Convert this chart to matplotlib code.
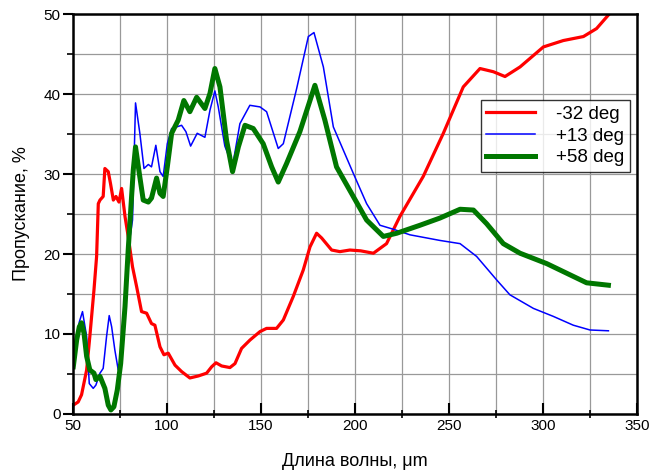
import matplotlib
matplotlib.use('Agg')
import matplotlib.pyplot as plt
from matplotlib.ticker import MultipleLocator

plt.rcParams['font.family'] = ['Liberation Sans', 'DejaVu Sans']

# -32 deg
red_x = [50.2, 52.8, 54.6, 57.3, 59.0, 61.2, 62.6, 63.5, 64.4, 66.1, 67.0, 68.8, 70.0, 71.5,
         72.9, 74.5, 75.9, 77.7, 79.4, 81.7, 83.9, 86.5, 89.2, 91.8, 93.6, 96.3, 98.4, 100.7,
         104.3, 107.8, 112.2, 116.7, 121.1, 123.8, 126.1, 129.1, 133.5, 136.2, 139.7, 144.2,
         149.5, 153.0, 158.3, 161.9, 167.2, 172.5, 176.1, 179.6, 182.3, 187.6, 192.0, 197.3,
         203.0, 209.8, 216.8, 223.9, 236.3, 247.0, 257.6, 266.5, 273.6, 279.8, 287.8, 300.2,
         310.8, 321.5, 328.5, 334.8]
red_y = [1.1, 1.5, 2.4, 5.5, 9.7, 15.5, 19.7, 26.3, 26.75, 27.2, 30.7, 30.3, 28.8, 26.75,
         27.2, 26.5, 28.2, 24.7, 22.2, 18.4, 15.9, 12.8, 12.6, 11.3, 11.1, 8.4, 7.4, 7.6,
         6.1, 5.3, 4.5, 4.75, 5.1, 5.9, 6.4, 6.0, 5.8, 6.3, 8.2, 9.25,
         10.3, 10.7, 10.7, 11.75, 14.7, 18.0, 20.9, 22.6, 22.0, 20.5, 20.3, 20.5,
         20.4, 20.1, 21.3, 24.7, 29.7, 35.1, 40.9, 43.2, 42.8, 42.2, 43.4, 45.9,
         46.7, 47.2, 48.2, 49.9]

# +13 deg
blue_x = [50.2, 52.0, 53.4, 55.1, 57.3, 58.7, 60.8, 62.2, 64.4, 66.1, 67.9, 69.3, 70.6, 72.3,
          74.1, 75.9, 77.7, 79.4, 81.7, 83.3, 85.6, 87.8, 90.1, 91.8, 94.1, 96.3, 98.0, 100.2,
          102.5, 107.8, 110.1, 112.6, 116.1, 120.2, 122.9, 125.5, 127.3, 130.8, 134.9, 138.8,
          144.1, 149.5, 153.0, 159.2, 161.9, 169.0, 175.2, 178.2, 183.2, 188.5, 199.1, 206.2,
          213.3, 220.4, 229.3, 245.2, 255.9, 264.7, 275.4, 282.4, 294.9, 305.5, 316.1, 325.0,
          334.8]
blue_y = [6.5, 9.5, 11.5, 12.8, 9.7, 3.8, 3.2, 3.6, 5.1, 5.7, 9.7, 12.3, 10.9, 8.0,
          5.5, 7.2, 13.4, 20.5, 24.25, 38.9, 35.1, 30.7, 31.2, 30.9, 33.6, 30.3, 29.7, 33.8,
          35.7, 36.1, 35.3, 33.5, 35.1, 34.6, 38.0, 40.4, 38.4, 33.5, 31.0, 36.3,
          38.6, 38.4, 37.8, 33.2, 33.8, 40.7, 47.2, 47.7, 43.4, 35.9, 30.1, 26.3,
          23.6, 23.1, 22.4, 21.7, 21.3, 19.7, 16.75, 14.9, 13.2, 12.2, 11.1, 10.5,
          10.4]

# +58 deg
green_x = [50.2, 52.0, 53.4, 54.6, 55.9, 57.3, 59.0, 61.2, 62.2, 64.4, 67.0, 68.8, 70.2, 71.8,
           73.6, 75.4, 77.7, 79.4, 82.1, 83.3, 85.3, 87.4, 90.1, 91.8, 94.5, 96.3, 98.0, 100.2,
           102.5, 106.0, 109.0, 112.2, 115.8, 120.2, 122.9, 125.5, 128.2, 131.7, 134.9, 138.0,
           141.5, 145.9, 151.2, 155.7, 159.2, 163.6, 170.7, 178.7, 184.0, 190.2, 199.1, 206.2,
           215.1, 222.2, 234.6, 245.2, 255.9, 263.0, 270.0, 278.9, 287.8, 302.0, 312.6, 323.2,
           334.8]
green_y = [5.9, 9.25, 10.9, 11.4, 10.1, 7.2, 5.5, 5.1, 4.3, 4.7, 3.2, 1.1, 0.5, 0.9,
           3.0, 6.3, 13.4, 20.5, 30.5, 33.4, 30.1, 26.75, 26.5, 27.0, 29.5, 27.6, 27.2, 30.9,
           35.1, 36.75, 39.2, 37.8, 39.6, 38.2, 40.1, 43.2, 40.9, 34.25, 30.3, 33.4,
           36.1, 35.7, 33.8, 30.9, 29.0, 31.3, 35.3, 41.1, 36.75, 30.9, 27.2, 24.25,
           22.2, 22.6, 23.6, 24.5, 25.6, 25.5, 23.8, 21.3, 20.1, 18.8, 17.6, 16.4,
           16.1]

fig = plt.figure(figsize=(6.51, 4.72), dpi=100)
ax = fig.add_axes([0.112, 0.123, 0.8665, 0.847])

ax.plot(red_x, red_y, color='#ff0000', lw=2.3, label='-32 deg')
ax.plot(blue_x, blue_y, color='#0000ff', lw=1.1, label='+13 deg')
ax.plot(green_x, green_y, color='#007700', lw=3.6, label='+58 deg')

ax.set_xlim(50, 350)
ax.set_ylim(0, 50)
ax.xaxis.set_major_locator(MultipleLocator(50))
ax.xaxis.set_minor_locator(MultipleLocator(25))
ax.yaxis.set_major_locator(MultipleLocator(10))
ax.yaxis.set_minor_locator(MultipleLocator(5))
ax.grid(True, which='both', color='#999999', lw=0.9)
ax.set_axisbelow(True)
ax.tick_params(axis='x', which='major', direction='in', length=8, width=1.5, labelsize=11, pad=4)
ax.tick_params(axis='x', which='minor', direction='inout', length=6, width=1.2)
ax.tick_params(axis='y', which='major', direction='out', length=7, width=1.5, labelsize=11, pad=2)
ax.tick_params(axis='y', which='minor', direction='out', length=4, width=1.2)
for s in ax.spines.values():
    s.set_linewidth(1.8)

ax.set_xlabel('Длина волны, μm', fontsize=13, labelpad=14)
ax.set_ylabel('Пропускание, %', fontsize=13, labelpad=10)

leg = ax.legend(loc='upper left', bbox_to_anchor=(0.723, 0.785), fontsize=13.5,
                frameon=True, fancybox=False, edgecolor='black', handlelength=2.6,
                borderpad=0.3, labelspacing=0.25, handletextpad=1.1, borderaxespad=0)
leg.get_frame().set_linewidth(1.0)

fig.savefig('out.png', dpi=100)
